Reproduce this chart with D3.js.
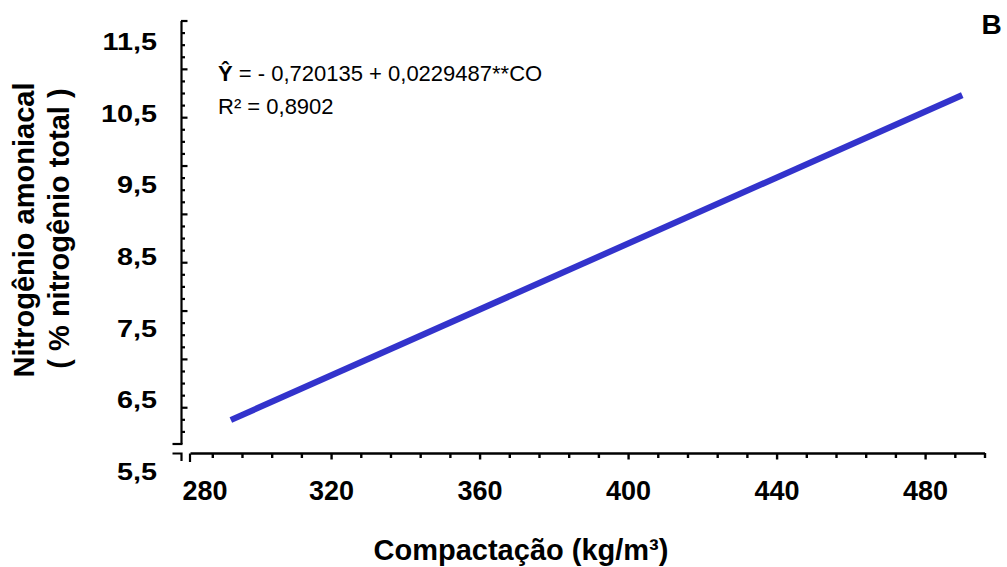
<!DOCTYPE html>
<html>
<head>
<meta charset="utf-8">
<script src="https://cdn.jsdelivr.net/npm/d3@7"></script>
<style>
  html, body { margin: 0; padding: 0; background: #fff; }
  svg { display: block; }
  text { font-family: "Liberation Sans", Arial, Helvetica, sans-serif; fill: #000; }
</style>
</head>
<body>
<svg id="chart" width="1007" height="567"></svg>
<script>
// Fitted regression line: compaction (kg/m³) against ammoniacal nitrogen (% of total N)
const compaction = [293, 490];
const nitrogen = [6.22, 10.76];

// Axis labels
const xTickLabels = [280, 320, 360, 400, 440, 480];
const yTickLabels = [5.5, 6.5, 7.5, 8.5, 9.5, 10.5, 11.5];
const xMinorStep = 8;          // kg/m³ between x ticks
const xMajorStep = 40;         // kg/m³ between labelled x ticks
const yRulerCount = 35;        // tick intervals on the left ruler
const yRulerMajorEvery = 4;

const equationHat = "Ŷ";
const equationRest = " = - 0,720135 + 0,0229487**CO";
const r2Text = "R² = 0,8902";
const panelLetter = "B";
const xTitle = "Compactação (kg/m³)";
const yTitle1 = "Nitrogênio amoniacal";
const yTitle2 = "( % nitrogênio total )";

const svg = d3.select("#chart");
const BLUE = "#3333cc";

// ---------- scales ----------
const x = d3.scaleLinear().domain([282, 496]).range([190, 984.5]);
const y = d3.scaleLinear().domain([5.5, 11.5]).range([471.5, 42.2]);
const yRuler = d3.scaleLinear().domain([0, yRulerCount]).range([20.5, 443.5]);

const fmtComma = d => d3.format(".1f")(d).replace(".", ",");

// ---------- left ruler (ticks point inward) ----------
const rulerIdx = d3.range(0, yRulerCount);
const rulerMinor = rulerIdx.filter(i => i % yRulerMajorEvery !== 0);
const rulerMajor = rulerIdx.filter(i => i % yRulerMajorEvery === 0);

const gYr = svg.append("g").attr("transform", "translate(181,0)");
gYr.append("g")
  .call(d3.axisRight(yRuler).tickValues(rulerMinor).tickSize(4).tickSizeOuter(0).tickFormat(""));
gYr.append("g")
  .call(d3.axisRight(yRuler).tickValues(rulerMajor).tickSize(6.5).tickSizeOuter(0).tickFormat(""))
  .select(".domain").remove();
gYr.selectAll("path, line").attr("stroke", "#000").attr("stroke-width", 2.2);

// foot of the ruler and the break mark beside the x axis
svg.append("line").attr("x1", 172.5).attr("x2", 182.5).attr("y1", 444).attr("y2", 444)
  .attr("stroke", "#000").attr("stroke-width", 2.2);
svg.append("path").attr("d", "M172.5,453.5H181.5V461")
  .attr("fill", "none").attr("stroke", "#000").attr("stroke-width", 2.2);

// ---------- y tick labels ----------
const gYl = svg.append("g").attr("transform", "translate(160.6,0)")
  .call(d3.axisLeft(y).tickValues(yTickLabels).tickSize(0).tickPadding(3).tickFormat(fmtComma));
gYl.select(".domain").remove();
gYl.attr("font-family", null).attr("font-size", null);
gYl.selectAll("text")
  .attr("font-size", 24).attr("font-weight", "bold")
  .attr("transform", "scale(1.2,1)");

// ---------- x axis ----------
const xAll = d3.range(288, 497, xMinorStep);
const xMinor = xAll.filter(v => v % xMajorStep !== 0);
const xMajor = xAll.filter(v => v % xMajorStep === 0);

const gX = svg.append("g").attr("transform", "translate(0,453)");
gX.append("g")
  .call(d3.axisBottom(x).tickValues(xMinor).tickSize(5).tickSizeOuter(0).tickFormat(""));
gX.append("g")
  .call(d3.axisBottom(x).tickValues(xMajor).tickSize(6.5).tickSizeOuter(0).tickFormat(""))
  .select(".domain").remove();
gX.selectAll("path, line").attr("stroke", "#000").attr("stroke-width", 2.4);
// left end cap of the x axis
gX.append("line").attr("x1", x(282)).attr("x2", x(282)).attr("y1", 0.5).attr("y2", 9)
  .attr("stroke", "#000").attr("stroke-width", 2.2);

// x tick labels
const gXl = svg.append("g").attr("transform", "translate(0,453)")
  .call(d3.axisBottom(x).tickValues(xTickLabels).tickSize(0).tickFormat(d3.format("d")));
gXl.select(".domain").remove();
gXl.attr("font-family", null).attr("font-size", null);
gXl.selectAll("text")
  .attr("y", 46.5).attr("dy", null)
  .attr("font-size", 27).attr("font-weight", "bold");
// the first label is pushed right so it clears the axis break
gXl.selectAll(".tick").filter(d => d === xTickLabels[0])
  .attr("transform", `translate(${x(xTickLabels[0]) + 22.5},0)`);

// ---------- regression line ----------
const lineData = compaction.map((c, i) => ({ c, n: nitrogen[i] }));
svg.append("path")
  .datum(lineData)
  .attr("d", d3.line().x(d => x(d.c)).y(d => y(d.n)))
  .attr("fill", "none")
  .attr("stroke", BLUE)
  .attr("stroke-width", 6.2)
  .attr("stroke-linecap", "butt");

// ---------- equation ----------
const eq = svg.append("text").attr("x", 218).attr("y", 80.5).attr("font-size", 22);
eq.append("tspan").attr("font-weight", "bold").text(equationHat);
eq.append("tspan").text(equationRest);
svg.append("text").attr("x", 218).attr("y", 113.5).attr("font-size", 22).text(r2Text);

// ---------- titles ----------
svg.append("text")
  .attr("x", 521).attr("y", 559.5)
  .attr("text-anchor", "middle")
  .attr("font-size", 29).attr("font-weight", "bold")
  .text(xTitle);

svg.append("text")
  .attr("transform", "translate(33.5,230) rotate(-90)")
  .attr("text-anchor", "middle")
  .attr("font-size", 29).attr("font-weight", "bold")
  .text(yTitle1);
svg.append("text")
  .attr("transform", "translate(69,228.5) rotate(-90)")
  .attr("text-anchor", "middle")
  .attr("font-size", 29).attr("font-weight", "bold")
  .text(yTitle2);

svg.append("text")
  .attr("x", 981.5).attr("y", 33.5)
  .attr("font-size", 28).attr("font-weight", "bold")
  .text(panelLetter);
</script>
</body>
</html>
